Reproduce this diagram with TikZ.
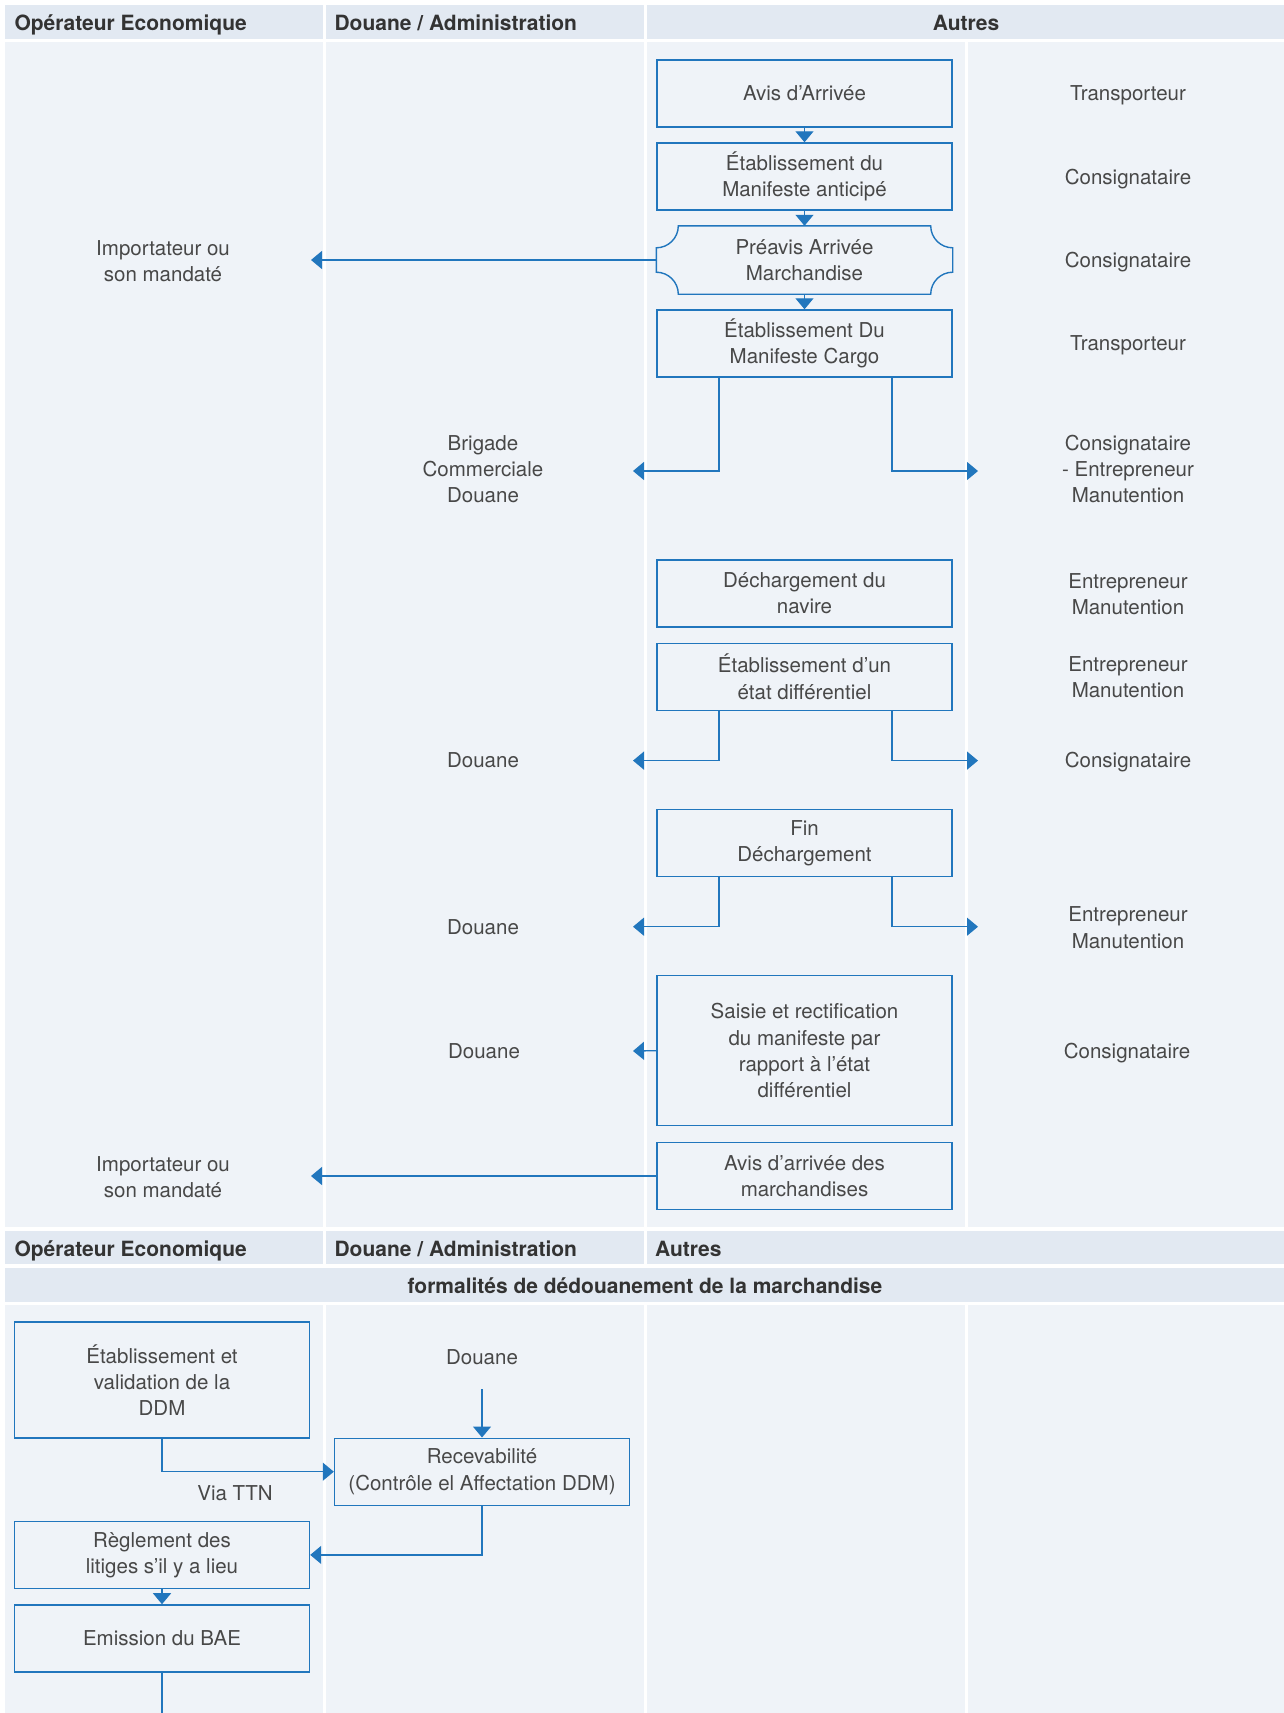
\documentclass[tikz,border=0pt]{standalone}
\usepackage{fontspec}
\setmainfont{TeX Gyre Heros}
\usetikzlibrary{arrows.meta}
\definecolor{flowblue}{RGB}{33,118,189}
\definecolor{bodybg}{RGB}{239,243,248}
\definecolor{headbg}{RGB}{226,233,242}
\definecolor{textgray}{RGB}{72,72,72}
\definecolor{headgray}{RGB}{51,51,51}

\begin{document}
\begin{tikzpicture}[x=1pt, y=1pt,
  every node/.style={font=\fontsize{20.5}{26.3}\selectfont, text=textgray, align=center},
  etape/.style={draw=flowblue, line width=1.4pt, minimum width=295pt, minimum height=67pt, inner sep=0pt},
  entete/.style={font=\fontsize{21}{25}\selectfont\bfseries, text=headgray},
  lien/.style={draw=flowblue, line width=1.3pt},
  fleche/.style={lien, -{Triangle[length=11pt,width=18pt]}, flowblue}
]
\useasboundingbox (0,0) rectangle (1284,-1713);

% Backgrounds
\foreach \xa/\xb in {5/323,326/644,647/965,968/1284} {
  \fill[bodybg] (\xa,-42) rectangle (\xb,-1227);
  \fill[bodybg] (\xa,-1305) rectangle (\xb,-1713);
}
\foreach \ya/\yb in {5/39,1231/1264} {
  \fill[headbg] (5,-\ya) rectangle (323,-\yb);
  \fill[headbg] (326,-\ya) rectangle (644,-\yb);
  \fill[headbg] (647,-\ya) rectangle (1284,-\yb);
}
\fill[headbg] (5,-1268) rectangle (1284,-1302);

% Headers
\node[entete, anchor=base west] (hopA) at (11,-30.5) {Opérateur Economique};
\node[entete, anchor=base west] (hdouA) at (331,-30.5) {Douane / Administration};
\node[entete, anchor=base] (hautA) at (966,-30.5) {Autres};
\node[entete, anchor=base west] (hopB) at (11,-1256) {Opérateur Economique};
\node[entete, anchor=base west] (hdouB) at (331,-1256) {Douane / Administration};
\node[entete, anchor=base west] (hautB) at (651.5,-1256) {Autres};
\node[entete, anchor=base] (hform) at (645,-1293) {formalités de dédouanement de la marchandise};

% Steps (Autres)
\node[etape] (avis) at (804.5,-93.5) {Avis d’Arrivée};
\node[etape] (etab) at (804.5,-176.5) {Établissement du\\Manifeste anticipé};
\node[etape, draw=none] (pre) at (804.5,-260) {Préavis Arrivée\\Marchandise};
\draw[flowblue, line width=1.4pt] ([xshift=22pt]pre.north west) arc[start angle=0, end angle=-90, radius=22pt]
  -- ([yshift=22pt]pre.south west) arc[start angle=90, end angle=0, radius=22pt]
  -- ([xshift=-22pt]pre.south east) arc[start angle=180, end angle=90, radius=22pt]
  -- ([yshift=-22pt]pre.north east) arc[start angle=270, end angle=180, radius=22pt]
  -- cycle;
\node[etape] (cargo) at (804.5,-343.5) {Établissement Du\\Manifeste Cargo};
\node[etape] (dechar) at (804.5,-593.3) {Déchargement du\\navire};
\node[etape] (etat) at (804.5,-676.8) {Établissement d’un\\état différentiel};
\node[etape] (fin) at (804.5,-843.1) {Fin\\Déchargement};
\node[etape, minimum height=150pt] (saisie) at (804.5,-1050.7) {Saisie et rectification\\du manifeste par\\rapport à l’état\\différentiel};
\node[etape] (avism) at (804.5,-1176) {Avis d’arrivée des\\marchandises};

% Actors (Autres)
\node (acT1) at (1128,-95.5) {Transporteur};
\node (acC1) at (1128,-179) {Consignataire};
\node (acC2) at (1128,-262) {Consignataire};
\node (acT2) at (1128,-345) {Transporteur};
\node (acCE) at (1128,-469) {Consignataire\\- Entrepreneur\\Manutention};
\node (acE1) at (1128,-594) {Entrepreneur\\Manutention};
\node (acE2) at (1128,-677) {Entrepreneur\\Manutention};
\node (acC3) at (1128,-762) {Consignataire};
\node (acE3) at (1128,-927.8) {Entrepreneur\\Manutention};
\node (acC4) at (1127,-1053) {Consignataire};

% Actors (Douane, Operateur)
\node (brig) at (483,-469) {Brigade\\Commerciale\\Douane};
\node (dou1) at (483,-760.6) {Douane};
\node (dou2) at (483,-926.7) {Douane};
\node (dou3) at (484,-1051) {Douane};
\node (imp1) at (163,-261) {Importateur ou\\son mandaté};
\node (imp2) at (163,-1177) {Importateur ou\\son mandaté};

% Arrow ends
\coordinate (tImp1) at (311,-260);
\coordinate (tImp2) at (311,-1176);
\coordinate (tB1) at (633,-471);
\coordinate (tD1) at (978,-471);
\coordinate (tB2) at (633,-760.6);
\coordinate (tD2) at (978,-760.6);
\coordinate (tB3) at (633,-926.7);
\coordinate (tD3) at (978,-926.7);
\coordinate (tB4) at (633,-1051);

% Connectors
\draw[fleche] (avis) -- (etab);
\draw[fleche] (etab) -- (pre);
\draw[fleche] (pre) -- (cargo);
\draw[fleche] (pre.west) -- (tImp1);
\draw[fleche] ([xshift=-85.5pt]cargo.south) |- (tB1);
\draw[fleche] ([xshift=87.5pt]cargo.south) |- (tD1);
\draw[fleche] ([xshift=-85.5pt]etat.south) |- (tB2);
\draw[fleche] ([xshift=87.5pt]etat.south) |- (tD2);
\draw[fleche] ([xshift=-85.5pt]fin.south) |- (tB3);
\draw[fleche] ([xshift=87.5pt]fin.south) |- (tD3);
\draw[fleche] (saisie.west) -- (tB4);
\draw[fleche] (avism.west) -- (tImp2);

% Dedouanement
\node[etape, minimum height=116pt] (ddm) at (162,-1380) {Établissement et\\validation de la\\DDM};
\node[etape] (recev) at (482,-1471.7) {Recevabilité\\(Contrôle el Affectation DDM)};
\node[etape] (regl) at (162,-1554.9) {Règlement des\\litiges s’il y a lieu};
\node[etape] (bae) at (162,-1638.4) {Emission du BAE};
\node (dou4) at (482,-1357) {Douane};
\node (ttn) at (235,-1493) {Via TTN};
\coordinate (sDou) at (482,-1389);
\coordinate (eBae) at (162,-1713);

\draw[fleche] (ddm.south) |- (recev.west);
\draw[fleche] (sDou) -- (recev.north);
\draw[fleche] (recev.south) |- (regl.east);
\draw[fleche] (regl) -- (bae);
\draw[lien] (bae.south) -- (eBae);
\end{tikzpicture}
\end{document}
